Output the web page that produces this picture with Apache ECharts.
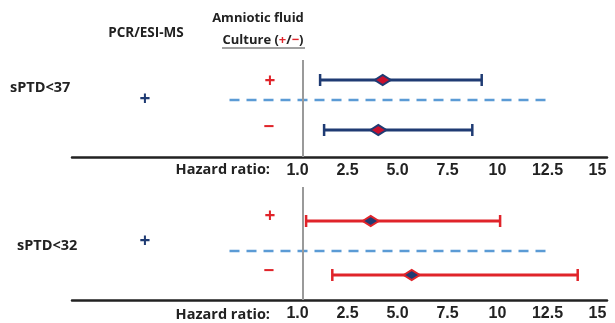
<!DOCTYPE html>
<html>
<head>
<meta charset="utf-8">
<script src="https://cdn.jsdelivr.net/npm/echarts@6/dist/echarts.min.js"></script>
<style>html,body{margin:0;padding:0;background:#fff}#c{width:615px;height:323px}</style>
</head>
<body>
<div id="c"></div>
<script>
// ---- data ----
var tickValues = [0, 2.5, 5, 7.5, 10, 12.5, 15];
var tickLabels = ['1.0', '2.5', '5.0', '7.5', '10', '12.5', '15'];
var refValue = [0.25];               // hazard ratio 1.0 reference line
// [low CI, high CI, estimate, row]
var sptd37Plus  = [1.13, 9.21, 4.26, 2.0];
var sptd37Minus = [1.33, 8.74, 4.04, 7.0];
var sptd37Sep   = [[-3.4, 4.0], [12.7, 4.0]];
var sptd32Plus  = [0.43, 10.13, 3.66, 3.4];
var sptd32Minus = [1.74, 14.01, 5.71, 8.8];
var sptd32Sep   = [[-3.4, 6.4], [12.7, 6.4]];

var NAVY = '#1f3b73', RED = '#e0242a', DASH = '#5b9bd5', GRAY = '#9a9a9a';
var CAL = '"Open Sans", Lato, sans-serif';

function forest(color, fill, border) {
  return function (params, api) {
    var lo = api.coord([api.value(0), api.value(3)]);
    var hi = api.coord([api.value(1), api.value(3)]);
    var pt = api.coord([api.value(2), api.value(3)]);
    var cap = 6, dw = 8, dh = 5;
    return {type: 'group', children: [
      {type: 'line', shape: {x1: lo[0], y1: lo[1], x2: hi[0], y2: hi[1]}, style: {stroke: color, lineWidth: 3}},
      {type: 'line', shape: {x1: lo[0], y1: lo[1] - cap, x2: lo[0], y2: lo[1] + cap}, style: {stroke: color, lineWidth: 2.5}},
      {type: 'line', shape: {x1: hi[0], y1: hi[1] - cap, x2: hi[0], y2: hi[1] + cap}, style: {stroke: color, lineWidth: 2.5}},
      {type: 'polygon', shape: {points: [[pt[0] - dw, pt[1]], [pt[0], pt[1] - dh], [pt[0] + dw, pt[1]], [pt[0], pt[1] + dh]]},
        style: {fill: fill, stroke: border, lineWidth: 2}}
    ]};
  };
}

function xAxisFor(idx) {
  return {
    type: 'value', gridIndex: idx, min: -11.275, max: 15.475,
    axisLine: {show: true, onZero: false, lineStyle: {color: '#222', width: 2.5}},
    axisTick: {show: false}, splitLine: {show: false},
    axisLabel: {
      customValues: tickValues, margin: 6,
      formatter: function (v) { var i = tickValues.indexOf(v); return i >= 0 ? tickLabels[i] : ''; },
      color: '#222', fontFamily: '"Liberation Sans", Arial, sans-serif', fontWeight: 'bold', fontSize: 16
    }
  };
}
function yAxisFor(idx, max) {
  return {type: 'value', gridIndex: idx, min: 0, max: max, inverse: true, show: false};
}
function refLine() {
  return {silent: true, symbol: 'none', label: {show: false},
    lineStyle: {color: GRAY, width: 2, type: 'solid'},
    data: refValue.map(function (v) { return {xAxis: v}; })};
}

var texts = [
  {t: 'Amniotic fluid', x: 258, y: 18, c: '#222', s: 13, a: 'center'},
  {t: 'PCR/ESI-MS', x: 146, y: 33, c: '#222', s: 13.5, a: 'center'},
  {t: 'sPTD<37', x: 10, y: 88, c: '#222', s: 14.5, a: 'left'},
  {t: 'sPTD<32', x: 17, y: 246, c: '#222', s: 14.5, a: 'left'},
  {t: 'Hazard ratio:', x: 270, y: 170, c: '#222', s: 14.5, a: 'right'},
  {t: 'Hazard ratio:', x: 270, y: 315, c: '#222', s: 14.5, a: 'right'},
  {t: '+', x: 145, y: 100, c: NAVY, s: 19, a: 'center'},
  {t: '+', x: 145, y: 242, c: NAVY, s: 19, a: 'center'},
  {t: '+', x: 270, y: 82, c: RED, s: 19, a: 'center'},
  {t: '+', x: 270, y: 217, c: RED, s: 19, a: 'center'},
  {t: '\u2212', x: 269, y: 128, c: RED, s: 19, a: 'center'},
  {t: '\u2212', x: 269, y: 272, c: RED, s: 19, a: 'center'}
];
var graphics = texts.map(function (d) {
  return {type: 'text', x: d.x, y: d.y, silent: true,
    style: {text: d.t, fill: d.c, font: 'bold ' + d.s + 'px ' + CAL, textAlign: d.a, textVerticalAlign: 'middle'}};
});
graphics.push({type: 'text', x: 263, y: 40, silent: true,
  style: {text: '{k|Culture (}{r|+}{k|/}{r|\u2212}{k|)}', textAlign: 'center', textVerticalAlign: 'middle',
    rich: {k: {fill: '#222', font: 'bold 13px ' + CAL}, r: {fill: RED, font: 'bold 13px ' + CAL}}}});
graphics.push({type: 'line', silent: true, shape: {x1: 222, y1: 48, x2: 305, y2: 48}, style: {stroke: '#444', lineWidth: 1}});

var chart = echarts.init(document.getElementById('c'), null, {renderer: 'canvas'});
chart.setOption({
  backgroundColor: '#fff',
  animation: false,
  grid: [
    {left: 72, right: 8, top: 60, height: 97},
    {left: 72, right: 8, top: 187, height: 113}
  ],
  xAxis: [xAxisFor(0), xAxisFor(1)],
  yAxis: [yAxisFor(0, 9.7), yAxisFor(1, 11.3)],
  graphic: graphics,
  series: [
    {type: 'line', xAxisIndex: 0, yAxisIndex: 0, data: sptd37Sep, symbol: 'none',
      lineStyle: {color: DASH, width: 2.5, type: [10, 7]}, markLine: refLine(), z: 1},
    {type: 'custom', xAxisIndex: 0, yAxisIndex: 0, renderItem: forest(NAVY, '#c8102e', NAVY),
      data: [sptd37Plus, sptd37Minus], z: 3},
    {type: 'line', xAxisIndex: 1, yAxisIndex: 1, data: sptd32Sep, symbol: 'none',
      lineStyle: {color: DASH, width: 2.5, type: [10, 7]}, markLine: refLine(), z: 1},
    {type: 'custom', xAxisIndex: 1, yAxisIndex: 1, renderItem: forest(RED, NAVY, RED),
      data: [sptd32Plus, sptd32Minus], z: 3}
  ]
});
</script>
</body>
</html>
